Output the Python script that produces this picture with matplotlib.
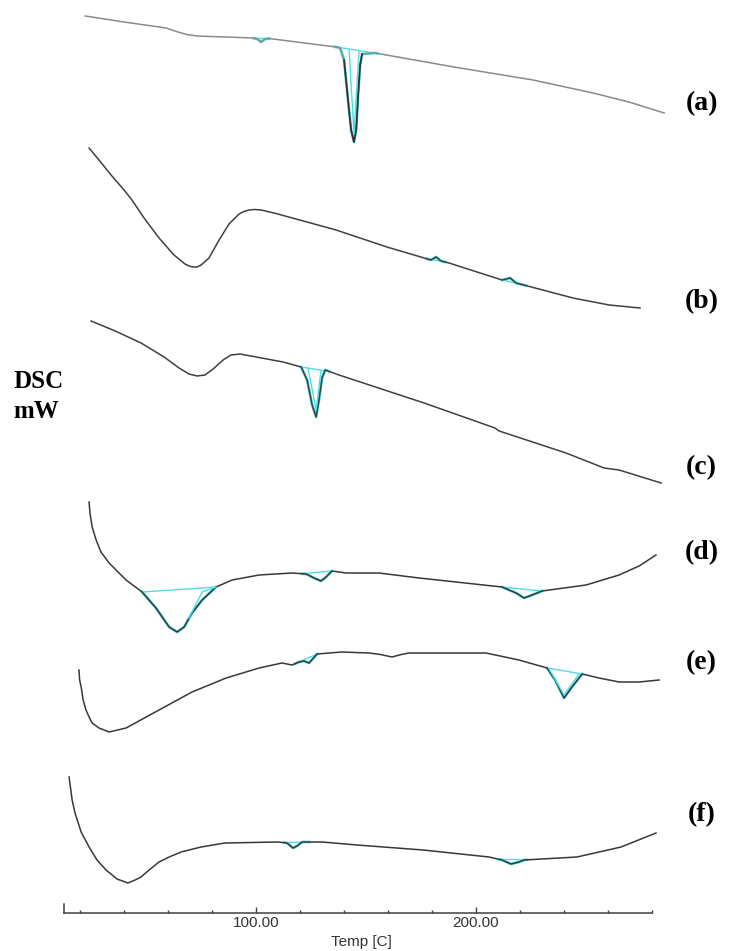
import matplotlib.pyplot as plt
import numpy as np

# DSC thermograms (a)-(f): temperature in C, heat flow in arbitrary units (stacked)
temp_a = [22.3, 40.0, 59.1, 61.8, 64.5, 68.5, 73.2, 98.6, 100.5, 102.3, 104.1, 105.9, 136.4,
          138.2, 140.0, 141.8, 143.2, 144.5, 145.5, 146.4, 147.3, 148.2, 154.1, 190.0,
          225.9, 253.2, 269.5, 285.5]
dsc_a = [89.7, 89.1, 88.5, 88.3, 88.1, 87.85, 87.7, 87.5, 87.4, 87.1, 87.4, 87.45, 86.6,
         86.5, 85.3, 81.3, 78.3, 77.1, 78.3, 81.8, 84.8, 85.9, 86.0, 84.6,
         83.3, 82.0, 81.1, 80.0]

temp_b = [24.1, 28.6, 34.1, 40.0, 43.6, 49.1, 55.9, 62.7, 65.5, 67.7, 69.5, 71.4, 73.2, 75.0,
          78.6, 83.2, 87.7, 92.3, 94.5, 96.8, 99.5, 102.3, 108.2, 136.4, 159.5, 179.5,
          181.8, 184.1, 187.7, 211.8, 215.5, 218.2, 244.1, 260.5, 274.5]
dsc_b = [76.5, 75.3, 73.8, 72.3, 71.3, 69.5, 67.5, 65.8, 65.3, 64.9, 64.7, 64.6, 64.6, 64.8,
         65.5, 67.3, 68.9, 69.9, 70.15, 70.3, 70.35, 70.3, 70.0, 68.3, 66.6, 65.3,
         65.6, 65.2, 65.0, 63.3, 63.5, 63.0, 61.5, 60.8, 60.5]

temp_c = [25.0, 36.0, 47.7, 58.2, 65.0, 69.5, 73.2, 76.8, 80.5, 85.0, 88.6, 92.7, 112.3,
          120.5, 123.2, 125.5, 127.3, 128.6, 130.0, 131.4, 137.7, 176.4, 208.6, 210.5,
          240.9, 258.2, 265.0, 284.1]
dsc_c = [59.2, 58.2, 57.0, 55.6, 54.5, 53.9, 53.7, 53.8, 54.4, 55.3, 55.8, 55.9, 55.1,
         54.6, 53.3, 50.8, 49.6, 51.3, 53.5, 54.3, 53.8, 51.0, 48.5, 48.2,
         46.0, 44.5, 44.3, 43.0]

temp_d = [24.1, 24.5, 25.5, 27.3, 29.5, 33.2, 40.9, 48.2, 54.5, 60.5, 64.1, 67.3, 70.9,
          75.5, 81.8, 89.1, 101.4, 116.4, 122.7, 126.4, 129.5, 131.8, 134.5, 140.9, 155.9,
          174.1, 211.8, 218.2, 221.8, 225.5, 230.0, 250.0, 265.0, 274.1, 281.8]
dsc_d = [41.1, 40.0, 38.6, 37.3, 36.1, 35.0, 33.3, 32.1, 30.5, 28.6, 28.1, 28.6, 30.0,
         31.3, 32.6, 33.3, 33.8, 34.0, 33.9, 33.5, 33.2, 33.6, 34.2, 34.0, 34.0,
         33.5, 32.6, 32.0, 31.5, 31.8, 32.2, 32.8, 33.8, 34.7, 35.8]

temp_e = [19.5, 19.8, 20.5, 21.4, 22.7, 24.1, 25.5, 28.6, 33.2, 40.9, 55.9, 70.9, 86.4,
          101.4, 111.8, 116.4, 119.5, 121.8, 124.1, 127.7, 139.1, 151.4, 156.5, 161.8,
          166.0, 169.5, 204.5, 219.5, 232.3, 235.9, 240.0, 243.6, 248.2, 255.9, 265.0,
          274.1, 283.2]
dsc_e = [24.3, 23.3, 22.6, 21.3, 20.3, 19.6, 19.0, 18.5, 18.1, 18.5, 20.3, 22.1, 23.5,
         24.5, 25.0, 24.8, 25.1, 25.2, 25.0, 25.9, 26.1, 26.0, 25.85, 25.6,
         25.85, 26.0, 26.0, 25.3, 24.5, 23.3, 21.5, 22.6, 23.9, 23.5, 23.1,
         23.1, 23.3]

temp_f = [15.0, 16.4, 17.7, 20.5, 24.1, 27.7, 31.8, 36.8, 41.8, 45.0, 47.7, 51.4, 55.9,
          60.5, 65.9, 75.0, 85.9, 110.0, 114.1, 116.8, 118.6, 120.9, 130.0, 145.9, 175.9,
          205.9, 211.8, 215.9, 219.5, 221.8, 245.9, 265.9, 281.8]
dsc_f = [13.6, 11.3, 10.0, 8.1, 6.6, 5.3, 4.3, 3.4, 3.0, 3.3, 3.6, 4.3, 5.1,
         5.6, 6.1, 6.6, 7.0, 7.1, 7.0, 6.5, 6.7, 7.1, 7.1, 6.8, 6.3,
         5.6, 5.3, 4.9, 5.1, 5.3, 5.6, 6.6, 8.0]

curve_labels = ['(a)', '(b)', '(c)', '(d)', '(e)', '(f)']
label_level = [80.9, 61.1, 44.5, 36.0, 25.0, 9.8]

# peak integration: baseline limits (C) for every curve
peak_limits = [
    [(99.0, 106.0), (136.0, 155.0)],
    [(177.7, 185.9), (211.8, 222.7)],
    [(120.5, 133.2)],
    [(48.2, 81.8), (120.9, 134.5), (211.8, 230.0)],
    [(117.7, 127.7), (232.3, 248.2)],
    [(112.7, 124.1), (210.5, 223.2)],
]
# fitted peak outlines (cyan V inside the big peaks)
fit_a_t = [142.3, 144.5, 146.8]
fit_a_y = [86.3, 78.0, 86.1]
fit_c_t = [123.6, 127.3, 129.5]
fit_c_y = [54.5, 50.3, 54.2]
fit_d_t = [81.8, 75.5, 69.5]
fit_d_y = [32.6, 32.1, 29.5]
fit_e_t = [233.2, 240.0, 246.8]
fit_e_y = [24.4, 21.8, 23.9]

curves = [(temp_a, dsc_a), (temp_b, dsc_b), (temp_c, dsc_c),
          (temp_d, dsc_d), (temp_e, dsc_e), (temp_f, dsc_f)]
colors = ['#8a8a8a', '#404040', '#404040', '#383838', '#383838', '#383838']
cyan = '#4fdce4'

fig = plt.figure(figsize=(7.41, 9.51), dpi=100)
ax = fig.add_axes([64 / 741, 38 / 951, 616 / 741, 913 / 951])
ax.set_xlim(12.7, 292.7)
ax.set_ylim(0, 91.3)

for (t, y), col, lims in zip(curves, colors, peak_limits):
    t = np.array(t)
    y = np.array(y)
    for t0, t1 in lims:
        m = (t >= t0) & (t <= t1)
        tt = np.concatenate([[t0], t[m], [t1]])
        ax.plot(tt, np.interp(tt, t, y), color=cyan, lw=2.0, zorder=1)
        ax.plot([t0, t1], np.interp([t0, t1], t, y), color=cyan, lw=1.0, zorder=1)
    ax.plot(t, y, color=col, lw=1.1, zorder=2)

for ft, fy in [(fit_a_t, fit_a_y), (fit_c_t, fit_c_y), (fit_d_t, fit_d_y), (fit_e_t, fit_e_y)]:
    ax.plot(ft, fy, color=cyan, lw=1.0, zorder=3)
# peak (a) is drawn dark at its tip
m = (np.array(temp_a) > 139) & (np.array(temp_a) < 149)
ax.plot(np.array(temp_a)[m], np.array(dsc_a)[m], color='#303030', lw=1.2, zorder=2)

for s in ['top', 'right']:
    ax.spines[s].set_visible(False)
ax.spines['bottom'].set_bounds(12.7, 280)
ax.spines['left'].set_bounds(0, 0.9)
for s in ['bottom', 'left']:
    ax.spines[s].set_color('#404040')
    ax.spines[s].set_linewidth(1.1)

ax.set_yticks([])
ax.set_xticks([100, 200])
ax.set_xticklabels(['100.00', '200.00'], fontfamily='Liberation Sans', color='#333333')
ax.set_xticks([t for t in range(20, 281, 20) if t not in (100, 200)], minor=True)
ax.tick_params(axis='x', which='major', direction='in', length=4.5, width=1.0,
               color='#404040', pad=2, labelsize=11)
ax.tick_params(axis='x', which='minor', direction='in', length=2.5, width=1.0, color='#404040')

fig.text(361 / 741, 1 - 942 / 951, 'Temp [C]', ha='center', va='center',
         fontsize=11, fontfamily='Liberation Sans', color='#333333')
fig.text(13 / 741, 1 - 382 / 951, 'DSC', ha='left', va='center', fontsize=18,
         fontfamily='Liberation Serif', fontweight='bold')
fig.text(13 / 741, 1 - 412 / 951, 'mW', ha='left', va='center', fontsize=18,
         fontfamily='Liberation Serif', fontweight='bold')

for lab, lev in zip(curve_labels, label_level):
    ax.text(302.5, lev, lab, ha='center', va='center', fontsize=20,
            fontfamily='Liberation Serif', fontweight='bold', clip_on=False)

fig.savefig('out.png', dpi=100)
